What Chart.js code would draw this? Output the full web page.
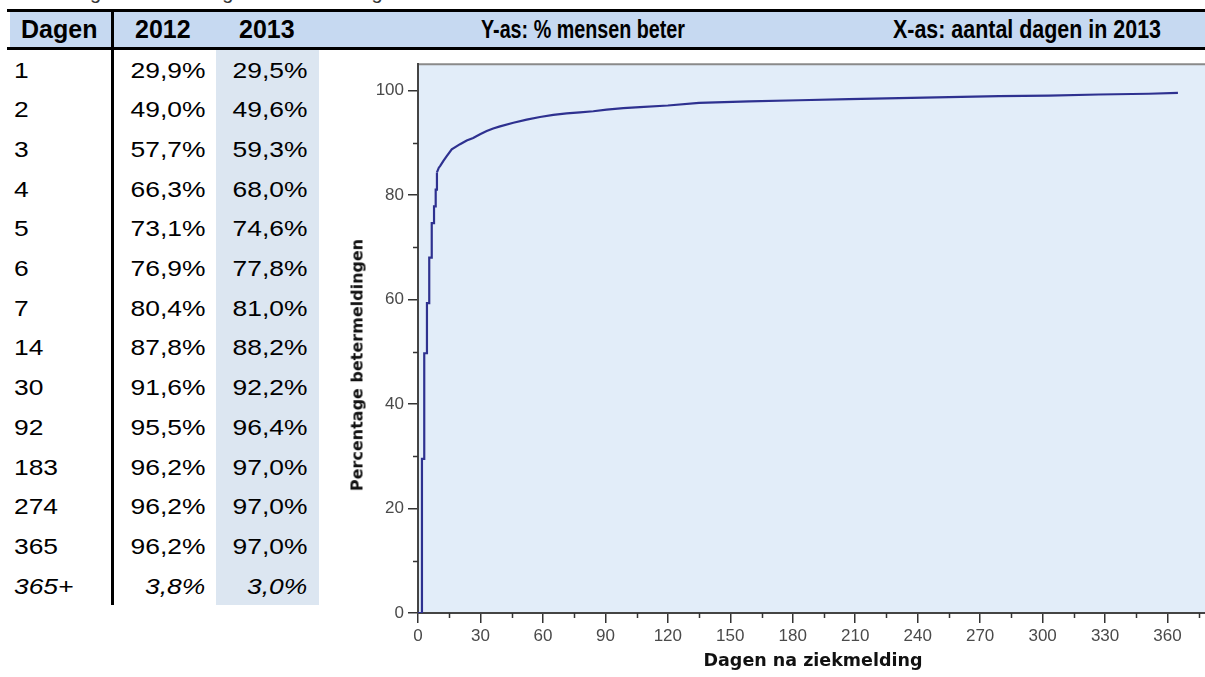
<!DOCTYPE html>
<html>
<head>
<meta charset="utf-8">
<script src="https://cdn.jsdelivr.net/npm/chart.js@4.4.1/dist/chart.umd.min.js"></script>
<style>
  body { margin:0; width:1205px; height:677px; overflow:hidden; background:#fff; position:relative;
         font-family:"Liberation Sans", Arial, sans-serif; color:#000; }
  .abs { position:absolute; white-space:nowrap; }
  .hdr { font-weight:bold; font-size:25px; line-height:34px; top:12px; }
  .cell { font-size:22px; line-height:26px; height:26px; }
  .title { font-family:"DejaVu Sans", sans-serif; font-weight:bold; color:#111; }
</style>
</head>
<body>
<div class="abs" style="left:10px; top:-19px; font-size:20px; color:#333;">Percentage betermeldingen na aantal dagen</div>

<div class="abs" style="left:7px; top:9px; width:1198px; height:3px; background:#000;"></div>
<div class="abs" style="left:10px; top:12px; width:1195px; height:35px; background:#c6d9f1;"></div>
<div class="abs" style="left:7px; top:47px; width:1198px; height:3px; background:#000;"></div>
<div class="abs" style="left:216px; top:50px; width:103px; height:555px; background:#dce6f1;"></div>
<div class="abs" style="left:111px; top:12px; width:3px; height:593px; background:#000;"></div>

<div class="abs hdr" style="left:21px;">Dagen</div>
<div class="abs hdr" style="left:135px;">2012</div>
<div class="abs hdr" style="left:239px;">2013</div>
<div class="abs hdr fit" data-w="204" style="left:481px;">Y-as: % mensen beter</div>
<div class="abs hdr fit" data-w="268" style="left:893px;">X-as: aantal dagen in 2013</div>

<div id="rows"></div>

<div class="abs" style="left:330px; top:50px; width:875px; height:627px;">
  <canvas id="kmChart"></canvas>
</div>

<div class="abs title" style="left:357px; top:365px; font-size:16px; transform:translate(-50%,-50%) rotate(-90deg);">Percentage betermeldingen</div>
<div class="abs title" style="left:813px; top:660px; font-size:17.5px; transform:translate(-50%,-50%);">Dagen na ziekmelding</div>

<script>
// table data
const tabelDagen = ['1', '2', '3', '4', '5', '6', '7', '14', '30', '92', '183', '274', '365', '365+'];
const pct2012 = [29.9, 49.0, 57.7, 66.3, 73.1, 76.9, 80.4, 87.8, 91.6, 95.5, 96.2, 96.2, 96.2, 3.8];
const pct2013 = [29.5, 49.6, 59.3, 68.0, 74.6, 77.8, 81.0, 88.2, 92.2, 96.4, 97.0, 97.0, 97.0, 3.0];

// curve (days, % recovered): steps in the first days, then a smooth tail
const stapDagen = [0, 1.9, 3.0, 4.3, 5.4, 6.6, 7.7, 8.5, 9.1];
const stapPct = [0, 29.5, 49.7, 59.3, 68.0, 74.6, 77.8, 81.0, 84.3];
const staartDagen = [9.1, 10.0, 10.6, 12.2, 13.8, 16.2, 20.2, 23.4, 26.5, 29.8, 33, 36.1, 39.4, 45.8, 52.2, 58.6, 65,
    71.4, 77.8, 84.2, 90.6, 98.6, 106.6, 120, 135, 159, 183, 207, 231, 255, 279, 303, 327, 351, 365];
const staartPct = [84.3, 85.2, 85.5, 86.5, 87.4, 88.7, 89.7, 90.4, 90.9, 91.6, 92.2, 92.7, 93.1, 93.8, 94.4, 94.9, 95.3,
    95.6, 95.8, 96.0, 96.3, 96.6, 96.8, 97.1, 97.6, 97.9, 98.1, 98.3, 98.5, 98.7, 98.9, 99.0, 99.2, 99.35, 99.5];

const fmt = v => v.toFixed(1).replace('.', ',') + '%';

// build table rows
const rows = document.getElementById('rows');
tabelDagen.forEach((d, i) => {
    const top = 70.5 + i * 39.7 - 13;
    const italic = d.endsWith('+') ? 'font-style:italic;' : '';
    rows.insertAdjacentHTML('beforeend',
        `<div class="abs cell" style="left:14px; top:${top}px; ${italic} transform:scaleX(1.2); transform-origin:left;">${d}</div>` +
        `<div class="abs cell" style="right:${1205 - 205}px; top:${top}px; ${italic} transform:scaleX(1.2); transform-origin:right;">${fmt(pct2012[i])}</div>` +
        `<div class="abs cell" style="right:${1205 - 307}px; top:${top}px; ${italic} transform:scaleX(1.2); transform-origin:right;">${fmt(pct2013[i])}</div>`);
});

// squeeze the narrow header texts to their width
document.querySelectorAll('.fit').forEach(el => {
    const w = el.getBoundingClientRect().width;
    el.style.transformOrigin = 'left';
    el.style.transform = `scaleX(${el.dataset.w / w})`;
});

// plot background + top border + minor ticks
const plotDeco = {
    id: 'plotDeco',
    beforeDraw(chart) {
        const { ctx, chartArea: a } = chart;
        ctx.save();
        ctx.fillStyle = '#e2edf9';
        ctx.fillRect(a.left, a.top, a.right - a.left, a.bottom - a.top);
        ctx.strokeStyle = '#8a8a8a';
        ctx.lineWidth = 2;
        ctx.beginPath();
        ctx.moveTo(a.left, a.top);
        ctx.lineTo(a.right, a.top);
        ctx.stroke();
        ctx.restore();
    },
    afterDraw(chart) {
        const { ctx, chartArea: a, scales } = chart;
        ctx.save();
        ctx.strokeStyle = '#333';
        ctx.lineWidth = 1.5;
        ctx.beginPath();
        scales.y.ticks.forEach(t => {
            if (t.value % 20 !== 0) {
                const y = Math.round(scales.y.getPixelForValue(t.value)) + 0.5;
                ctx.moveTo(a.left - 5, y);
                ctx.lineTo(a.left, y);
            }
        });
        scales.x.ticks.forEach(t => {
            if (t.value % 30 !== 0) {
                const x = Math.round(scales.x.getPixelForValue(t.value)) + 0.5;
                ctx.moveTo(x, a.bottom);
                ctx.lineTo(x, a.bottom + 5);
            }
        });
        ctx.stroke();
        ctx.restore();
    }
};

const tickFont = { family: 'Liberation Sans', size: 17 };
const lijn = { borderColor: '#2e3190', borderWidth: 2.2, pointRadius: 0, fill: false };

new Chart(document.getElementById('kmChart'), {
    type: 'line',
    data: {
        datasets: [
            { ...lijn, stepped: true, data: stapDagen.map((d, i) => ({ x: d, y: stapPct[i] })) },
            { ...lijn, data: staartDagen.map((d, i) => ({ x: d, y: staartPct[i] })) }
        ]
    },
    options: {
        responsive: true,
        maintainAspectRatio: false,
        animation: false,
        layout: { padding: { top: 12, right: 0, left: 0, bottom: 0 } },
        plugins: { legend: { display: false }, tooltip: { enabled: false } },
        scales: {
            x: {
                type: 'linear',
                min: 0,
                max: 378,
                afterFit: s => { s.height = 64; },
                border: { color: '#444', width: 2 },
                grid: {
                    drawOnChartArea: false,
                    tickLength: 10,
                    lineWidth: 1.5,
                    color: c => (c.tick && c.tick.value % 30 === 0) ? '#333' : 'transparent'
                },
                ticks: {
                    stepSize: 15,
                    includeBounds: false,
                    autoSkip: false,
                    maxRotation: 0,
                    padding: 3,
                    color: '#4a4a4a',
                    font: tickFont,
                    callback: v => v % 30 === 0 ? v : ''
                }
            },
            y: {
                min: 0,
                max: 105,
                afterFit: s => { s.width = 88; },
                border: { color: '#444', width: 2 },
                grid: {
                    drawOnChartArea: false,
                    tickLength: 10,
                    lineWidth: 1.5,
                    color: c => (c.tick && c.tick.value % 20 === 0) ? '#333' : 'transparent'
                },
                ticks: {
                    stepSize: 10,
                    includeBounds: false,
                    padding: 4,
                    color: '#4a4a4a',
                    font: tickFont,
                    callback: v => v % 20 === 0 ? v : ''
                }
            }
        }
    },
    plugins: [plotDeco]
});
</script>
</body>
</html>
